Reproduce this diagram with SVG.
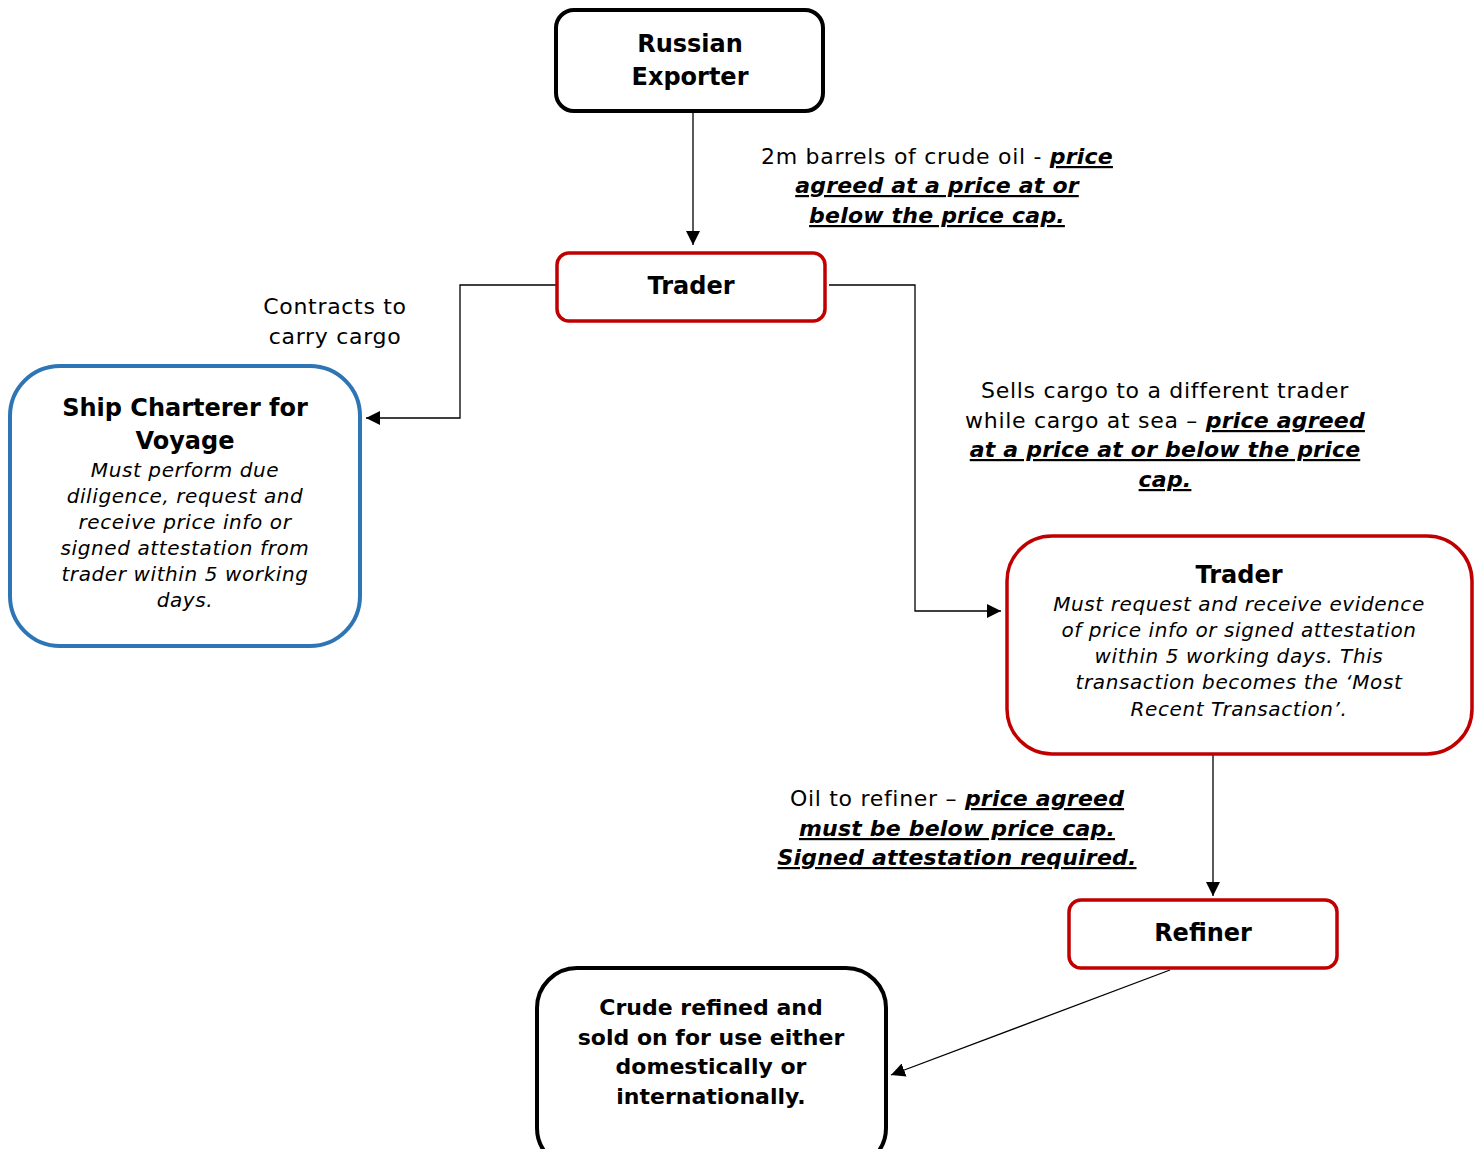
<svg xmlns="http://www.w3.org/2000/svg" width="1475" height="1149" viewBox="0 0 1475 1149">
<style>
text{font-family:"DejaVu Sans","Open Sans",sans-serif;fill:#000;text-anchor:middle}
.t{font-weight:bold;font-size:24px}
.b{font-style:italic;font-size:20px;letter-spacing:0.6px}
.l{font-size:22px;letter-spacing:0.7px}
.e{font-weight:bold;font-style:italic;text-decoration:underline;letter-spacing:0.2px}
.k{fill:#fff;stroke:#000;stroke-width:4}
.r{fill:#fff;stroke:#c00000;stroke-width:3.5}
.u{fill:#fff;stroke:#2e75b6;stroke-width:4}
.c{fill:none;stroke:#000;stroke-width:1.3}
</style>
<defs>
<marker id="a" viewBox="0 0 10 10" refX="10" refY="5" markerWidth="14" markerHeight="14" markerUnits="userSpaceOnUse" orient="auto">
<path d="M0,0L10,5L0,10z" fill="#000"/>
</marker>
</defs>
<g id="connectors">
<path class="c" d="M693,112V245" marker-end="url(#a)"/>
<path class="c" d="M557,285H460V418H366" marker-end="url(#a)"/>
<path class="c" d="M829,285H915V611H1001" marker-end="url(#a)"/>
<path class="c" d="M1213,755V896" marker-end="url(#a)"/>
<path class="c" d="M1170,970L891,1075" marker-end="url(#a)"/>
</g>
<g id="labels">
<text class="l" x="937" y="164">2m barrels of crude oil - <tspan class="e">price</tspan></text>
<text class="l" x="937" y="193"><tspan class="e">agreed at a price at or</tspan></text>
<text class="l" x="937" y="223"><tspan class="e">below the price cap.</tspan></text>
<text class="l" x="335" y="314">Contracts to</text>
<text class="l" x="335" y="344">carry cargo</text>
<text class="l" x="1165" y="398">Sells cargo to a different trader</text>
<text class="l" x="1165" y="428">while cargo at sea – <tspan class="e">price agreed</tspan></text>
<text class="l" x="1165" y="457"><tspan class="e">at a price at or below the price</tspan></text>
<text class="l" x="1165" y="487"><tspan class="e">cap.</tspan></text>
<text class="l" x="957" y="806">Oil to refiner – <tspan class="e">price agreed</tspan></text>
<text class="l" x="957" y="836"><tspan class="e">must be below price cap.</tspan></text>
<text class="l" x="957" y="865"><tspan class="e">Signed attestation required.</tspan></text>
</g>
<g id="exporter">
<rect class="k" x="556" y="10" width="267" height="101" rx="18"/>
<text class="t" x="690" y="52">Russian</text>
<text class="t" x="690" y="85">Exporter</text>
</g>
<g id="trader1">
<rect class="r" x="557" y="253" width="268" height="68" rx="12"/>
<text class="t" x="691" y="294">Trader</text>
</g>
<g id="charterer">
<rect class="u" x="10" y="366" width="350" height="280" rx="50"/>
<text class="t" x="185" y="416">Ship Charterer for</text>
<text class="t" x="185" y="449">Voyage</text>
<text class="b" x="185" y="477">Must perform due</text>
<text class="b" x="185" y="503">diligence, request and</text>
<text class="b" x="185" y="529">receive price info or</text>
<text class="b" x="185" y="555">signed attestation from</text>
<text class="b" x="185" y="581">trader within 5 working</text>
<text class="b" x="185" y="607">days.</text>
</g>
<g id="trader2">
<rect class="r" x="1007" y="536" width="465" height="218" rx="45"/>
<text class="t" x="1239" y="583">Trader</text>
<text class="b" x="1239" y="611">Must request and receive evidence</text>
<text class="b" x="1239" y="637">of price info or signed attestation</text>
<text class="b" x="1239" y="663">within 5 working days. This</text>
<text class="b" x="1239" y="689">transaction becomes the ‘Most</text>
<text class="b" x="1239" y="716">Recent Transaction’.</text>
</g>
<g id="refiner">
<rect class="r" x="1069" y="900" width="268" height="68" rx="12"/>
<text class="t" x="1203" y="941">Refiner</text>
</g>
<g id="crude">
<rect class="k" x="537" y="968" width="349" height="200" rx="40"/>
<text class="t" x="711" y="1015" style="font-size:22px">Crude refined and</text>
<text class="t" x="711" y="1045" style="font-size:22px">sold on for use either</text>
<text class="t" x="711" y="1074" style="font-size:22px">domestically or</text>
<text class="t" x="711" y="1104" style="font-size:22px">internationally.</text>
</g>
</svg>
